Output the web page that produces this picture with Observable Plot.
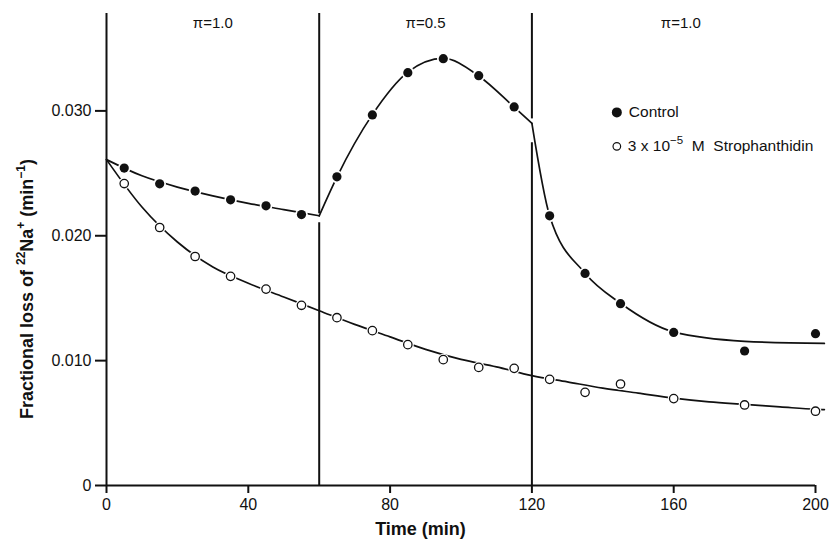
<!DOCTYPE html>
<html><head><meta charset="utf-8">
<script src="https://cdn.jsdelivr.net/npm/d3@7"></script>
<script src="https://cdn.jsdelivr.net/npm/@observablehq/plot@0.6"></script>
<style>body{margin:0;background:#fff} svg{display:block}</style>
</head><body><div id="chart"></div>
<script>
// Measured points (time in min, fractional loss per min)
const times = [5,15,25,35,45,55,65,75,85,95,105,115,125,135,145,160,180,200];
const controlValues = [0.02542,0.02416,0.02358,0.02288,0.0224,0.0217,0.02472,0.02968,0.03306,0.03418,0.03282,0.03032,0.0216,0.01698,0.01456,0.01226,0.01077,0.01216];
const strophValues = [0.02418,0.02066,0.01834,0.01675,0.01573,0.01443,0.01344,0.0124,0.01128,0.01008,0.00946,0.00938,0.0085,0.00746,0.00813,0.00696,0.00645,0.00595];

// Fitted curves
const controlFitT = [[0,10,20,30,40,50,60],[60,65,75,85,95,105,115,120],[120,125,135,145,160,180,202.5]];
const controlFitV = [[0.0261,0.0248,0.0239,0.0232,0.0226,0.0221,0.0216],[0.0216,0.0247,0.0297,0.0331,0.0342,0.0328,0.0303,0.0290],[0.0290,0.0216,0.0170,0.0146,0.0123,0.01155,0.01138]];
const strophFitT = [0,10,20,30,40,50,60,70,80,90,100,110,120,130,140,150,160,170,180,190,200,202.5];
const strophFitV = [0.0261,0.0223,0.0195,0.0175,0.0162,0.0151,0.0140,0.0129,0.0119,0.0109,0.0101,0.0095,0.0088,0.0083,0.0078,0.0074,0.0070,0.0067,0.0065,0.0063,0.0061,0.00607];

// Phase boundaries and labels
const phaseBounds = [60,120];
const boundaryGaps = [[0.02104,0.02176],[0.02744,0.02936]];
const phaseLabelT = [30,90,162];
const phaseLabels = ["π=1.0","π=0.5","π=1.0"];

const xTicks = [0,40,80,120,160,200];
const yTicks = [0,0.01,0.02,0.03];
const yTop = 0.0378;

const legendNames = ["Control","Strophanthidin"];

const control = times.map((t,i)=>({t, v: controlValues[i]}));
const stroph = times.map((t,i)=>({t, v: strophValues[i]}));
const controlFit = controlFitT.flatMap((ts,s)=>ts.map((t,i)=>({t, v: controlFitV[s][i], seg: s})));
const strophFit = strophFitT.map((t,i)=>({t, v: strophFitV[i]}));
const boundarySegs = phaseBounds.flatMap((b,i)=>[{x:b,y1:0,y2:boundaryGaps[i][0]},{x:b,y1:boundaryGaps[i][1],y2:yTop}]);
const phaseData = phaseLabelT.map((t,i)=>({t, label: phaseLabels[i]}));

const font = "'Liberation Sans', Arial, sans-serif";

const plot = Plot.plot({
  width: 833, height: 539,
  marginLeft: 106, marginRight: 18, marginTop: 13, marginBottom: 54,
  style: {fontFamily: font, fontSize: "16px", color: "#111", background: "#fff"},
  x: {domain: [0,200]},
  y: {domain: [0,yTop]},
  marks: [
    Plot.ruleX(boundarySegs, {x:"x", y1:"y1", y2:"y2", stroke:"#111", strokeWidth:2}),
    Plot.ruleX([0], {stroke:"#111", strokeWidth:2}),
    Plot.ruleY([0], {x1:0, x2:200, stroke:"#111", strokeWidth:2}),
    Plot.axisX({ticks: xTicks, tickSize: 8, tickPadding: 5, tickFormat: d=>String(d), label: null, strokeWidth: 2, fontSize: 16}),
    Plot.axisY({ticks: yTicks, tickSize: 11, tickPadding: 4, tickFormat: d=> d===0 ? "0" : d.toFixed(3), label: null, strokeWidth: 2, fontSize: 16}),
    Plot.line(strophFit, {x:"t", y:"v", curve:"monotone-x", stroke:"#111", strokeWidth:1.7}),
    Plot.line(controlFit, {x:"t", y:"v", z:"seg", curve:"monotone-x", stroke:"#111", strokeWidth:1.7}),
    Plot.dot(stroph, {x:"t", y:"v", r:6, fill:"#fff"}),
    Plot.dot(stroph, {x:"t", y:"v", r:4.2, fill:"#fff", stroke:"#111", strokeWidth:1.3}),
    Plot.dot(control, {x:"t", y:"v", r:6.3, fill:"#fff"}),
    Plot.dot(control, {x:"t", y:"v", r:4.6, fill:"#111"}),
    Plot.text(phaseData, {x:"t", text:"label", frameAnchor:"top", dy:4, fontSize:15, fill:"#111"})
  ]
});

const svg = d3.select(plot);
const xs = plot.scale("x"), ys = plot.scale("y");

// Axis titles
svg.append("text").attr("font-family", font).attr("font-weight","bold").attr("font-size",18)
  .attr("text-anchor","middle").attr("fill","#111")
  .attr("x", (xs.apply(0)+xs.apply(200))/2 - 40).attr("y", 535).text("Time (min)");

const yl = svg.append("text").attr("font-family", font).attr("font-weight","bold").attr("font-size",18)
  .attr("text-anchor","middle").attr("fill","#111")
  .attr("transform", `translate(33,${(ys.apply(0)+ys.apply(yTop))/2 + 40}) rotate(-90)`);
yl.append("tspan").text("Fractional loss of ");
yl.append("tspan").attr("font-size",12).attr("dy",-8).text("22");
yl.append("tspan").attr("dy",8).text("Na");
yl.append("tspan").attr("font-size",12).attr("dy",-8).text("+");
yl.append("tspan").attr("dy",8).text(" (min");
yl.append("tspan").attr("font-size",12).attr("dy",-8).text("−1");
yl.append("tspan").attr("dy",8).text(")");

// Legend
const lx = xs.apply(144.1);
const ly1 = ys.apply(0.02984), ly2 = ys.apply(0.02712);
svg.append("circle").attr("cx",lx).attr("cy",ly1).attr("r",5).attr("fill","#111");
svg.append("circle").attr("cx",lx).attr("cy",ly2).attr("r",3.8).attr("fill","#fff").attr("stroke","#111").attr("stroke-width",1.2);
svg.append("text").attr("font-family",font).attr("font-size",15.5).attr("fill","#111")
  .attr("text-anchor","start").attr("x",lx+12).attr("y",ly1+5).text(legendNames[0]);
const l2 = svg.append("text").attr("font-family",font).attr("font-size",15.5).attr("fill","#111")
  .attr("text-anchor","start").attr("x",lx+11).attr("y",ly2+5).attr("xml:space","preserve").style("white-space","pre");
l2.append("tspan").text("3 x 10");
l2.append("tspan").attr("font-size",11.5).attr("dy",-7).text("−5");
l2.append("tspan").attr("dy",7).text("  M  " + legendNames[1]);

document.getElementById("chart").appendChild(plot);
</script>
</body></html>
